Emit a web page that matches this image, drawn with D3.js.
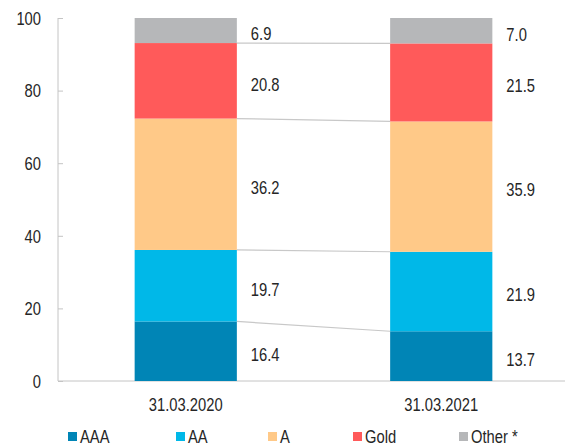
<!DOCTYPE html>
<html><head><meta charset="utf-8">
<script src="https://cdn.jsdelivr.net/npm/d3@7"></script>
<style>
body{margin:0;background:#fff;}
text{font-family:"Liberation Sans",Arial,sans-serif;fill:#262626;font-size:18px;}
</style></head>
<body><svg id="c" width="565" height="446"></svg>
<script>
const categories = ["31.03.2020", "31.03.2021"];
const seriesNames = ["AAA", "AA", "A", "Gold", "Other *"];
const seriesColors = ["#0085B6", "#00B8E8", "#FFC988", "#FF5A5A", "#B6B7B9"];
const valuesAAA = [16.4, 13.7];
const valuesAA = [19.7, 21.9];
const valuesA = [36.2, 35.9];
const valuesGold = [20.8, 21.5];
const valuesOther = [6.9, 7.0];
const yTicks = [0, 20, 40, 60, 80, 100];

(function () {
const NARROW = 0.82;
const seriesValues = [valuesAAA, valuesAA, valuesA, valuesGold, valuesOther];
const rows = categories.map((c, i) => {
  const r = {cat: c};
  seriesNames.forEach((s, j) => r[s] = seriesValues[j][i]);
  return r;
});
const stacked = d3.stack().keys(seriesNames)(rows);

const svg = d3.select("#c");
const mLeft = 58, mRight = 569, mTop = 18, mBottom = 381;
const x = d3.scaleBand().domain(categories).range([mLeft, mRight]).paddingInner(0.6).paddingOuter(0.3);
const y = d3.scaleLinear().domain([0, 100]).range([mBottom, mTop]);

function narrowText(sel, fx, fy) {
  sel.attr("transform", (d, i) => `translate(${fx(d, i)},${fy(d, i)}) scale(${NARROW},1)`)
     .attr("dy", "0.35em");
}

// axes
svg.append("line").attr("x1", mLeft).attr("x2", mLeft).attr("y1", y(100)).attr("y2", y(0))
  .attr("stroke", "#c4c4c4").attr("stroke-width", 1);
svg.append("line").attr("x1", mLeft).attr("x2", 565).attr("y1", y(0)).attr("y2", y(0))
  .attr("stroke", "#c4c4c4").attr("stroke-width", 1);
const yAxis = svg.append("g").attr("transform", `translate(${mLeft},0)`)
  .call(d3.axisRight(y).tickValues(yTicks).tickSize(5).tickFormat(d3.format("d")));
yAxis.select(".domain").remove();
yAxis.selectAll(".tick line").attr("stroke", "#c4c4c4");
yAxis.selectAll(".tick text").attr("x", 0).attr("text-anchor", "end").attr("fill", null)
  .call(narrowText, () => -17, () => 0);
yAxis.attr("font-size", null).attr("font-family", null);

// connectors
for (let k = 0; k < seriesNames.length - 1; k++) {
  const layer = stacked[k];
  svg.append("line")
    .attr("x1", x(categories[0]) + x.bandwidth()).attr("y1", y(layer[0][1]))
    .attr("x2", x(categories[1])).attr("y2", y(layer[1][1]))
    .attr("stroke", "#c8c8c8").attr("stroke-width", 1.2);
}

// bars
stacked.forEach((layer, j) => {
  svg.append("g").selectAll("rect").data(layer).join("rect")
    .attr("x", d => x(d.data.cat))
    .attr("width", x.bandwidth())
    .attr("y", d => y(d[1]))
    .attr("height", d => y(d[0]) - y(d[1]))
    .attr("fill", seriesColors[j]);
  svg.append("g").selectAll("text").data(layer).join("text")
    .text(d => (d[1] - d[0]).toFixed(1))
    .call(narrowText, d => x(d.data.cat) + x.bandwidth() + 14, d => y((d[0] + d[1]) / 2) + 3.5);
});

// category labels
svg.append("g").selectAll("text").data(categories).join("text")
  .attr("text-anchor", "middle").text(d => d)
  .call(narrowText, d => x(d) + x.bandwidth() / 2, () => 405);

// legend
const legendX = [68, 176, 268, 353, 459];
const lg = svg.append("g").selectAll("g").data(seriesNames).join("g")
  .attr("transform", (d, i) => `translate(${legendX[i]},437)`);
lg.append("rect").attr("x", 0).attr("y", -5).attr("width", 9).attr("height", 9)
  .attr("fill", (d, i) => seriesColors[i]);
lg.append("text").text(d => d).call(narrowText, () => 12, () => 0);
})();
</script></body></html>
